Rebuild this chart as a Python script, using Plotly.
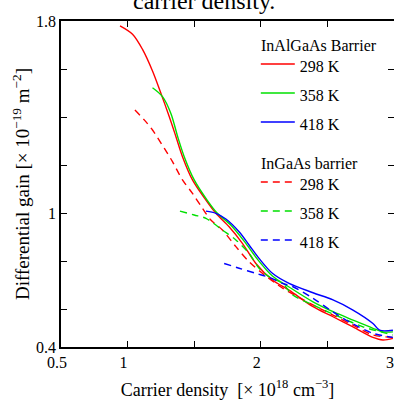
import plotly.graph_objects as go

# ---- data (carrier density [1e18 cm^-3], gain [1e-19 m^-2]) ----
n_alg_298 = [0.943, 1.037, 1.112, 1.187, 1.250, 1.313, 1.363, 1.412, 1.487, 1.588, 1.663, 1.762,
             1.862, 1.963, 2.087, 2.212, 2.392, 2.542, 2.692, 2.842, 2.917, 2.992]
g_alg_298 = [1.780, 1.745, 1.682, 1.592, 1.499, 1.401, 1.318, 1.235, 1.138, 1.054, 0.999, 0.943,
             0.874, 0.790, 0.721, 0.679, 0.610, 0.568, 0.526, 0.482, 0.471, 0.478]

n_alg_358 = [1.187, 1.262, 1.325, 1.376, 1.425, 1.500, 1.597, 1.672, 1.774, 1.875, 1.980, 2.087,
             2.212, 2.392, 2.542, 2.692, 2.842, 2.917, 2.992]
g_alg_358 = [1.522, 1.485, 1.415, 1.318, 1.235, 1.138, 1.054, 1.000, 0.950, 0.883, 0.804, 0.738,
             0.692, 0.630, 0.589, 0.554, 0.520, 0.505, 0.505]

n_alg_418 = [1.588, 1.663, 1.738, 1.837, 1.912, 1.987, 2.087, 2.212, 2.392, 2.542, 2.692, 2.842,
             2.892, 2.992]
g_alg_418 = [1.008, 0.999, 0.975, 0.922, 0.867, 0.811, 0.749, 0.707, 0.668, 0.638, 0.596, 0.540,
             0.512, 0.512]

n_ga_298 = [1.055, 1.125, 1.187, 1.275, 1.337, 1.412, 1.487, 1.562, 1.625, 1.712, 1.813, 1.912,
            2.012, 2.112, 2.187, 2.392, 2.542, 2.692, 2.842, 2.992]
g_ga_298 = [1.429, 1.388, 1.346, 1.270, 1.214, 1.138, 1.082, 1.020, 0.971, 0.929, 0.860, 0.797,
            0.749, 0.707, 0.679, 0.617, 0.575, 0.533, 0.492, 0.482]

n_ga_358 = [1.393, 1.500, 1.588, 1.712, 1.813, 1.912, 1.987, 2.062, 2.162, 2.242, 2.392, 2.617,
            2.767, 2.992]
g_ga_358 = [1.008, 0.992, 0.978, 0.929, 0.888, 0.832, 0.770, 0.735, 0.707, 0.658, 0.617, 0.561,
            0.526, 0.492]

n_ga_418 = [1.725, 1.837, 1.963, 2.062, 2.162, 2.242, 2.392, 2.542, 2.692, 2.842, 2.992]
g_ga_418 = [0.790, 0.770, 0.749, 0.732, 0.707, 0.693, 0.645, 0.588, 0.538, 0.499, 0.482]

temps = ["298 K", "358 K", "418 K"]
group_titles = ["InAlGaAs Barrier", "InGaAs barrier"]
colors = ["#ff0000", "#00e000", "#0000ff"]

x_tickvals = [0.5, 1.0, 2.0, 3.0]
x_ticktext = ["0.5", "1", "2", "3"]
x_minor = [1.5, 2.5]
y_tickvals = [0.442, 1.0, 1.8]
y_ticktext = ["0.4", "1", "1.8"]
y_minor = [0.6, 0.8, 1.2, 1.4, 1.6]

FONT = "Liberation Serif, Times New Roman, serif"

fig = go.Figure()
alg = [(n_alg_298, g_alg_298), (n_alg_358, g_alg_358), (n_alg_418, g_alg_418)]
ga = [(n_ga_298, g_ga_298), (n_ga_358, g_ga_358), (n_ga_418, g_ga_418)]


def sized(t):
    return '<span style="font-size:16px">' + t + '</span>'


for (xs, ys), t, c in zip(alg, temps, colors):
    fig.add_trace(go.Scatter(
        x=xs, y=ys, mode="lines", name=sized(t),
        line=dict(color=c, width=1.4, shape="spline", smoothing=0.9),
        legendgroup="alg",
    ))
for (xs, ys), t, c in zip(ga, temps, colors):
    fig.add_trace(go.Scatter(
        x=xs, y=ys, mode="lines", name=sized(t),
        line=dict(color=c, width=1.4, dash="7px,5px", shape="spline", smoothing=0.9),
        legendgroup="ga",
    ))

fig.update_layout(
    width=394, height=403,
    margin=dict(l=61, r=0, t=21, b=56),
    paper_bgcolor="white", plot_bgcolor="white",
    font=dict(family=FONT, size=16, color="black"),
    showlegend=True,
    legend=dict(x=0.585, y=0.928, xanchor="left", yanchor="top", bgcolor="rgba(0,0,0,0)",
                font=dict(size=20, family=FONT), traceorder="grouped", tracegroupgap=31,
                itemwidth=34),
    annotations=[
        dict(text="carrier density.", xref="paper", yref="paper", x=0.43, y=1.0,
             xanchor="center", yanchor="bottom", yshift=5, showarrow=False,
             font=dict(size=24, family=FONT, color="black")),
        dict(text=group_titles[0], xref="paper", yref="paper", x=0.596, y=0.926,
             xanchor="left", yanchor="middle", showarrow=False,
             font=dict(size=16, family=FONT, color="black")),
        dict(text=group_titles[1], xref="paper", yref="paper", x=0.596, y=0.562,
             xanchor="left", yanchor="middle", showarrow=False,
             font=dict(size=16, family=FONT, color="black")),
    ],
)
fig.update_xaxes(
    range=[0.5, 3.0], tickvals=x_tickvals, ticktext=x_ticktext,
    minor=dict(tickvals=x_minor, ticks="inside", ticklen=6, tickcolor="black"),
    ticks="inside", ticklen=6, tickcolor="black", showline=True, linecolor="black", linewidth=1.5,
    mirror="ticks", showgrid=False, zeroline=False, automargin=False, ticklabelshift=-4,
    title=dict(text="Carrier density  [× 10<sup>18</sup> cm<sup>−3</sup>]", font=dict(size=18), standoff=13),
)
fig.update_yaxes(
    range=[0.442, 1.8], tickvals=y_tickvals, ticktext=y_ticktext,
    minor=dict(tickvals=y_minor, ticks="inside", ticklen=6, tickcolor="black"),
    ticks="inside", ticklen=6, tickcolor="black", showline=True, linecolor="black", linewidth=1.5,
    mirror="ticks", showgrid=False, zeroline=False, automargin=False,
    title=dict(text="Differential gain [× 10<sup>−19</sup> m<sup>−2</sup>]", font=dict(size=19), standoff=1),
)

fig.write_html("out.html", config={"displayModeBar": False},
               post_script="document.body.style.margin='0px';")
